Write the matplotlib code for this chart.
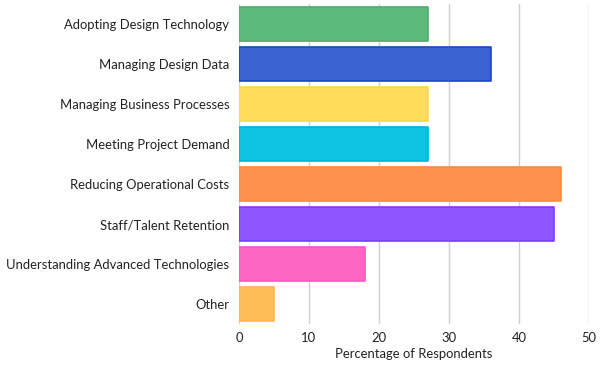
import matplotlib.pyplot as plt

categories = ["Adopting Design Technology", "Managing Design Data",
              "Managing Business Processes", "Meeting Project Demand",
              "Reducing Operational Costs", "Staff/Talent Retention",
              "Understanding Advanced Technologies", "Other"]
values = [27, 36, 27, 27, 46, 45, 18, 5]
colors = ["#5BB97B", "#3A62D0", "#FFDD5A", "#0EC3E2",
          "#FF914F", "#8F55FF", "#FF66C4", "#FFBD59"]
edges = ["#4FAE6F", "#1F46C8", "#FFD84A", "#00B5D6",
         "#FF8A40", "#7A3DF5", "#FF55BB", "#FFB74A"]
xticks = [0, 10, 20, 30, 40, 50]

plt.rcParams['font.family'] = ['Lato', 'DejaVu Sans']

fig = plt.figure(figsize=(6, 3.66), dpi=100)
ax = fig.add_axes([239 / 600, 1 - 324 / 366, 350 / 600, 320 / 366])

ypos = list(range(len(categories)))
bars = ax.barh(ypos, values, height=0.87, color=colors, edgecolor=edges,
               linewidth=1.2, zorder=3)
for b in bars:
    b.set_joinstyle("round")

ax.set_ylim(len(categories) - 0.5, -0.5)
ax.set_xlim(0, 50)
ax.set_xticks(xticks)
ax.set_yticks(ypos)
ax.set_yticklabels(categories, fontsize=9.4, color="#222222")
ax.tick_params(axis="x", labelsize=9.4, colors="#222222", length=0, pad=6)
ax.tick_params(axis="y", length=0, pad=7)
ax.grid(axis="x", color="#d0d0d0", linewidth=1, zorder=0)
for s in ax.spines.values():
    s.set_visible(False)
ax.set_xlabel("Percentage of Respondents", fontsize=9.4, color="#222222", labelpad=3)

fig.savefig("out.png", dpi=100)
